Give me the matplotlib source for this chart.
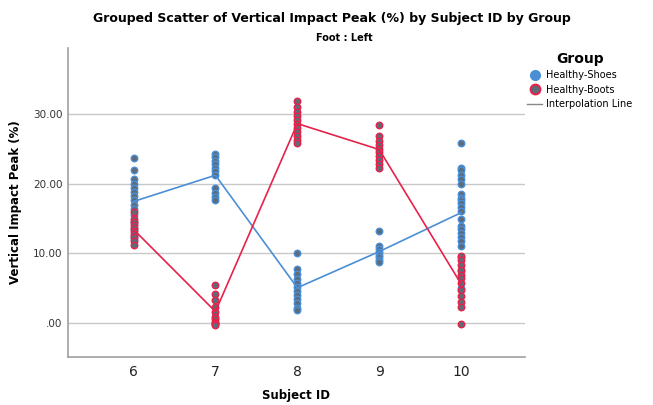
import numpy as np
import matplotlib
matplotlib.use("Agg")
import matplotlib.pyplot as plt
from matplotlib.lines import Line2D

subjects = [6, 7, 8, 9, 10]

shoes = {
    6: [23.7, 21.9, 20.7, 20.0, 19.4, 18.8, 18.2, 17.6, 17.0, 16.4,
        15.5, 14.5, 13.5, 12.5, 12.0],
    7: [24.3, 23.8, 23.3, 22.8, 22.3, 21.8, 21.3, 19.4, 18.7, 18.1, 17.6],
    8: [10.0, 7.7, 7.0, 6.3, 5.7, 5.1, 4.6, 4.0, 3.4, 2.8, 2.2, 1.8],
    9: [13.2, 11.0, 10.6, 10.2, 9.8, 9.4, 9.0, 8.8],
    10: [25.8, 22.3, 21.9, 21.3, 20.7, 20.0, 18.5, 18.0, 17.6, 17.2, 16.6,
         16.1, 15.0, 13.9, 13.5, 12.9, 12.4, 11.8, 11.0, 9.5, 7.5, 5.0],
}
boots = {
    6: [15.9, 15.0, 14.5, 14.0, 13.6, 13.2, 12.8, 12.3, 11.8, 11.2],
    7: [5.5, 4.2, 3.3, 2.3, 1.5, 0.9, 0.5, 0.2, 0.0, -0.2, -0.3],
    8: [31.9, 31.0, 30.3, 29.7, 29.1, 28.6, 28.0, 27.4, 26.8, 26.3, 25.9],
    9: [28.4, 26.9, 26.2, 25.6, 25.0, 24.5, 24.0, 23.4, 22.8, 22.3],
    10: [9.6, 9.0, 8.3, 7.6, 6.9, 6.4, 5.7, 4.7, 3.8, 3.0, 2.3, -0.2],
}

blue = '#4a8fd6'
red = '#e6224a'
fill = '#5f6b78'

fig = plt.figure(figsize=(6.53, 4.05), dpi=100)
ax = fig.add_axes([68/653, 48/405, 457/653, 309/405])

for s in subjects:
    ax.scatter([s]*len(shoes[s]), shoes[s], s=22, facecolor=fill, edgecolor=blue, linewidth=1.0, zorder=3)
for s in subjects:
    ax.scatter([s]*len(boots[s]), boots[s], s=22, facecolor=fill, edgecolor=red, linewidth=1.0, zorder=4)

ax.plot(subjects, [np.mean(shoes[s]) for s in subjects], color=blue, lw=1.2, zorder=5)
ax.plot(subjects, [np.mean(boots[s]) for s in subjects], color=red, lw=1.2, zorder=5)

ax.set_xlim(5.2, 10.78)
ax.set_ylim(-4.9, 39.5)
ax.set_xticks(subjects)
ax.set_xticklabels([str(s) for s in subjects], fontsize=10, color='#222222')
ax.set_yticks([0, 10, 20, 30])
ax.set_yticklabels(['.00', '10.00', '20.00', '30.00'], fontsize=7.5, color='#333333')
ax.tick_params(axis='y', length=0, pad=4)
ax.tick_params(axis='x', length=0, pad=6)
ax.grid(axis='y', color='#c8c8c8', lw=1)
ax.set_axisbelow(True)
for sp in ['top', 'right']:
    ax.spines[sp].set_visible(False)
for sp in ['left', 'bottom']:
    ax.spines[sp].set_color('#a0a0a0')
    ax.spines[sp].set_linewidth(1.2)

ax.set_xlabel('Subject ID', fontsize=8.5, fontweight='bold', labelpad=7)
ax.set_ylabel('Vertical Impact Peak (%)', fontsize=8.5, fontweight='bold', labelpad=8)

fig.text(0.508, 0.955, 'Grouped Scatter of Vertical Impact Peak (%) by Subject ID by Group',
         ha='center', va='center', fontsize=9, fontweight='bold')
fig.text(0.528, 0.905, 'Foot : Left', ha='center', va='center', fontsize=7, fontweight='bold')

handles = [
    Line2D([], [], marker='o', ls='', markersize=7, markerfacecolor=blue, markeredgecolor=blue),
    Line2D([], [], marker='o', ls='', markersize=7, markerfacecolor=fill, markeredgecolor=red, markeredgewidth=1.5),
    Line2D([], [], color='#888888', lw=1),
]
leg = fig.legend(handles, ['Healthy-Shoes', 'Healthy-Boots', 'Interpolation Line'],
                 loc='upper left', bbox_to_anchor=(520/653, 1 - 45/405), frameon=False,
                 fontsize=7, title='Group', handlelength=1.6, handletextpad=0.4,
                 labelspacing=0.45, borderpad=0.2)
leg.get_title().set_fontweight('bold')
leg.get_title().set_fontsize(10)

fig.savefig('out.png', dpi=100)
